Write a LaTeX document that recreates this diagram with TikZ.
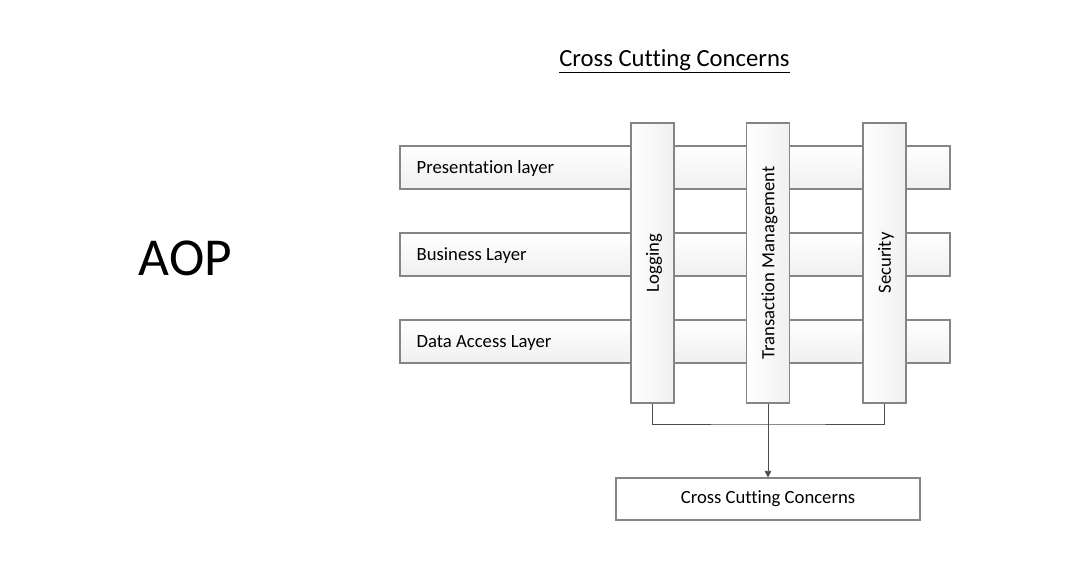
\documentclass[tikz,border=0pt]{standalone}
\usepackage{fontspec}
\setmainfont{Carlito}[Ligatures=NoCommon]
\usetikzlibrary{arrows.meta}
\definecolor{edgegray}{HTML}{858585}
\definecolor{shadegray}{HTML}{F0F0F0}
\tikzset{
  bartext/.style={font=\fontsize{14}{16}\selectfont},
  hbar/.style={draw=edgegray, line width=0.8pt, top color=white, bottom color=shadegray, minimum height=43*0.75pt, minimum width=550*0.75pt, inner sep=0pt},
  vbar/.style={draw=edgegray, line width=0.8pt, left color=white, right color=shadegray, minimum height=280*0.75pt, minimum width=43*0.75pt, inner sep=0pt},
  plainbox/.style={draw=edgegray, line width=0.8pt, fill=white, minimum height=42*0.75pt, minimum width=304*0.75pt, inner sep=0pt, bartext},
  conn/.style={draw=black!70, line width=0.7pt},
}
\begin{document}
\begin{tikzpicture}[x=0.75pt,y=-0.75pt]
\useasboundingbox (0,0) rectangle (1090,580);
\node (title) at (674.5,61) {\fontsize{18.5}{22}\selectfont\underline{Cross Cutting Concerns}};
\node (aop) at (185.5,258) {\fontsize{40}{46}\selectfont AOP};
\node[hbar] (pres) at (675,167.5) {};
\node[hbar] (bus) at (675,254.5) {};
\node[hbar] (dal) at (675,341.5) {};
\node[anchor=west, bartext] (prest) at (412,169) {Presentation layer};
\node[anchor=west, bartext] (bust) at (412,256) {Business Layer};
\node[anchor=west, bartext] (dalt) at (412,343) {Data Access Layer};
\node[vbar] (log) at (652.5,263) {};
\node[vbar] (tm) at (768,263) {};
\node[vbar] (sec) at (884.5,263) {};
\node[rotate=90, bartext] (logt) at (654,263) {Logging};
\node[rotate=90, bartext] (tmt) at (769.5,263) {Transaction Management};
\node[rotate=90, bartext] (sect) at (886,263) {Security};
\node[plainbox] (ccc) at (768,499) {Cross Cutting Concerns};
\coordinate (j) at (768,424);
\draw[conn] (log.south) |- (j) -| (sec.south);
\draw[conn, -{Triangle[length=5pt,width=5pt]}] (tm.south) -- (ccc.north);
\end{tikzpicture}
\end{document}
